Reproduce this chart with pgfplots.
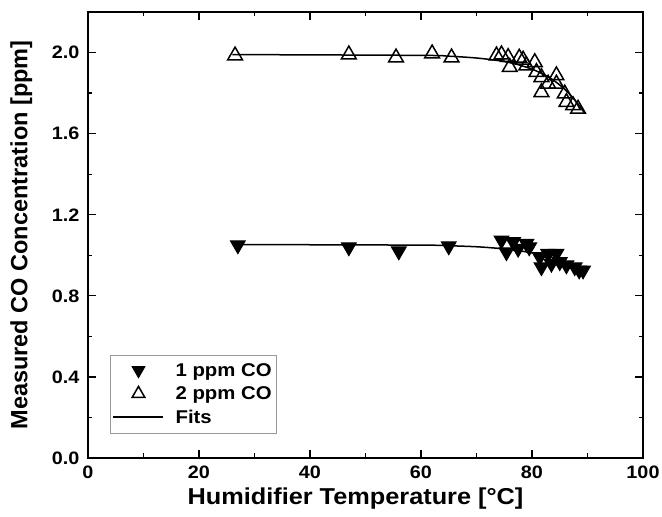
\documentclass[border=0pt]{standalone}
\usepackage{fontspec}
\setmainfont{Liberation Sans}
\newfontfamily\widefont{Liberation Sans}[FakeStretch=1.1]
\usepackage{pgfplots}
\pgfplotsset{compat=1.18}
\pgfplotsset{
    markleg/.style={legend image code/.code={\draw[##1, mark size=7.3pt] plot coordinates {(25pt,0pt)};}},
    lineleg/.style={legend image code/.code={\draw[black, line width=2.2pt] (0pt,0pt) -- (50pt,0pt);}},
}

\begin{document}
\begin{tikzpicture}
\begin{axis}[
    scale only axis,
    width=555pt,
    height=446pt,
    xmin=0, xmax=100,
    ymin=0, ymax=2.2,
    xtick={0,20,...,100},
    ytick={0,0.4,...,2.0},
    minor x tick num=1,
    minor y tick num=1,
    tick align=inside,
    major tick length=8pt,
    minor tick length=4.5pt,
    axis line style={line width=1.5pt},
    every tick/.style={line width=1.3pt, black},
    /pgf/number format/assume math mode=true,
    yticklabel style={/pgf/number format/fixed, /pgf/number format/fixed zerofill, /pgf/number format/precision=1, xshift=-5pt},
    tick label style={font=\widefont\fontsize{18}{21}\selectfont\bfseries},
    xticklabel style={yshift=-4pt},
    xlabel={Humidifier Temperature [°C]},
    ylabel={Measured CO Concentration [ppm]},
    xlabel style={font=\widefont\fontsize{23}{26}\selectfont\bfseries, at={(axis description cs:0.482,-0.092)}, anchor=center},
    ylabel style={font=\fontsize{23.5}{26}\selectfont\bfseries, at={(axis description cs:-0.12,0.5)}, anchor=center},
    legend cell align=left,
    legend style={
        at={(axis description cs:0.04,0.056)},
        anchor=south west,
        draw=gray!80,
        font=\widefont\fontsize{18.5}{21}\selectfont\bfseries,
        row sep=5pt,
        column sep=9pt,
        inner xsep=2pt, inner ysep=6pt
    },
]

% 1 ppm CO
\addplot[only marks, mark=triangle*, mark options={rotate=180, fill=black, line width=1pt}, mark size=8.5pt, markleg]
coordinates {
    (27,1.05)(47,1.04)(56,1.02)(65,1.045)
    (74.5,1.074)(75.4,1.016)(76.6,1.066)(77.5,1.033)(79.0,1.058)(79.5,1.04)
    (81.4,0.992)(81.7,0.942)(82.9,1.008)(83.5,0.959)(84.4,1.008)(85.0,0.967)
    (86.2,0.951)(87.7,0.942)(88.5,0.926)(89.2,0.926)
};
\addlegendentry{1 ppm CO}

% 2 ppm CO
\addplot[only marks, mark=triangle, mark options={line width=1.5pt}, mark size=8.5pt, markleg]
coordinates {
    (26.5,1.985)(47,1.99)(55.5,1.975)(62,1.995)(65.5,1.975)
    (73.6,1.985)(74.5,1.99)(75.7,1.977)(76.0,1.928)(77.7,1.974)(78.4,1.964)
    (79.0,1.936)(80.5,1.952)(80.8,1.903)(81.7,1.878)(81.7,1.804)(82.9,1.846)
    (84.4,1.887)(84.4,1.846)(85.9,1.797)(86.2,1.755)(87.4,1.739)(88.3,1.722)
};
\addlegendentry{2 ppm CO}

% fits
\addplot[black, line width=1.5pt, smooth, lineleg]
coordinates {
    (26,1.053)(60,1.050)(65,1.047)(70,1.042)(74,1.034)(77,1.025)(80,1.012)
    (82,1.000)(84,0.985)(86,0.964)(88,0.938)(89.5,0.913)
};
\addlegendentry{Fits}

\addplot[black, line width=1.5pt, smooth, forget plot]
coordinates {
    (26,1.990)(60,1.986)(65,1.982)(70,1.973)(74,1.960)(77,1.944)(80,1.918)
    (82,1.893)(84,1.861)(86,1.816)(88,1.757)(89,1.720)(89.5,1.699)
};

\end{axis}
\pgfresetboundingbox
\path[use as bounding box] ([xshift=-88pt,yshift=-59pt]current axis.south west) rectangle ([xshift=19pt,yshift=12pt]current axis.north east);
\end{tikzpicture}
\end{document}
